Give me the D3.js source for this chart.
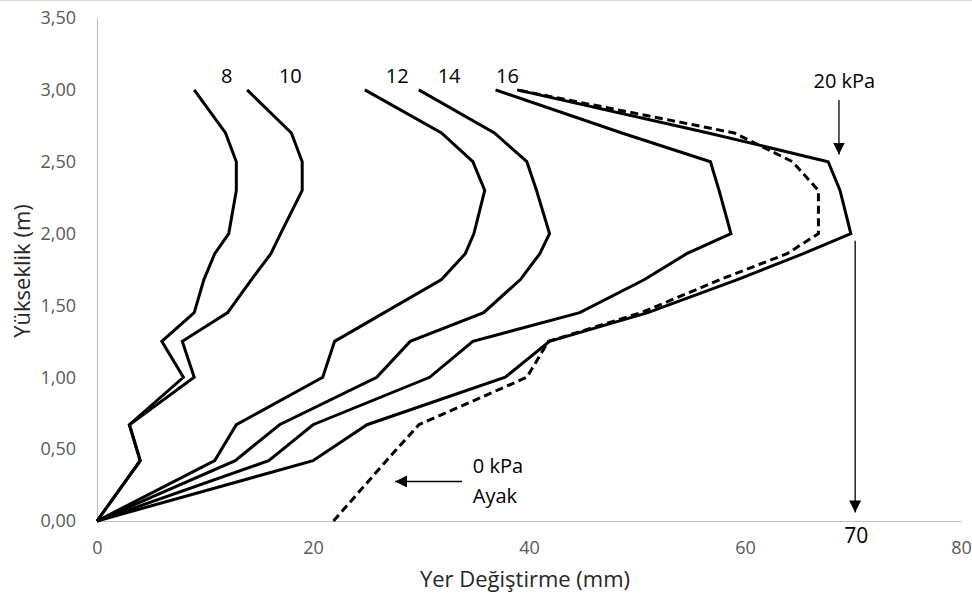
<!DOCTYPE html>
<meta charset="utf-8">
<script src="https://d3js.org/d3.v7.min.js"></script>
<style>
  body { margin: 0; background: #fff; }
  text { font-family: "Open Sans", Lato, sans-serif; }
</style>
<div id="chart"></div>
<script>
// Depths (m) at which displacement was measured
var depths = [0, 0.42, 0.67, 1.00, 1.25, 1.45, 1.68, 1.86, 2.00, 2.30, 2.50, 2.70, 3.00];

// Horizontal displacement (mm) per load step
var s8  = [0, 4.0, 3.0, 8.0, 6.0, 9.0, 9.9, 10.9, 12.2, 12.9, 12.9, 11.9, 9.0];
var s10 = [0, 4.0, 3.0, 9.0, 7.9, 12.1, 14.3, 16.1, 17.0, 19.0, 19.0, 18.0, 13.9];
var s12 = [0, 10.9, 12.9, 20.9, 22.0, 26.6, 31.9, 34.1, 34.9, 35.9, 34.8, 31.9, 24.8];
var s14 = [0, 12.8, 16.9, 25.9, 29.0, 35.8, 39.2, 41.0, 41.9, 40.7, 39.8, 36.8, 29.8];
var s16 = [0, 15.9, 20.0, 30.8, 34.8, 44.7, 50.7, 54.6, 58.7, 57.6, 56.8, 48.6, 36.9];
var s20 = [0, 20.0, 25.0, 37.8, 41.9, 51.0, 59.3, 65.4, 69.8, 68.8, 67.7, 56.6, 38.9];
var s0ayak = [21.9, 26.8, 29.8, 39.8, 41.8, 50.4, 57.7, 63.9, 66.8, 66.8, 64.4, 59.0, 38.9];

var xTicks = [0, 20, 40, 60, 80];
var yTicks = [0, 0.5, 1, 1.5, 2, 2.5, 3, 3.5];

var W = 972, H = 603;
var svg = d3.select("#chart").append("svg")
    .attr("width", W)
    .attr("height", H);

var x = d3.scaleLinear().domain([0, 80]).range([97, 961]);
var y = d3.scaleLinear().domain([0, 3.5]).range([521, 18]);

var tr = d3.formatLocale({decimal: ",", thousands: ".", grouping: [3], currency: ["", " TL"]});
var fmtY = tr.format(".2f");

// faint frame line at the top edge
svg.append("line")
    .attr("x1", 0).attr("x2", W).attr("y1", 0.5).attr("y2", 0.5)
    .attr("stroke", "#d9d9d9");

// axes
var xAxis = svg.append("g")
    .attr("transform", "translate(0," + y(0) + ")")
    .call(d3.axisBottom(x).tickValues(xTicks).tickSize(0).tickPadding(20));
var yAxis = svg.append("g")
    .attr("transform", "translate(" + x(0) + ",0)")
    .call(d3.axisLeft(y).tickValues(yTicks).tickSize(0).tickPadding(21).tickFormat(fmtY));
[xAxis, yAxis].forEach(function(g) {
  g.select(".domain").attr("stroke", "#bfbfbf").attr("stroke-width", 1.2);
  g.selectAll("text").attr("fill", "#595959").style("font-size", "18px")
    .style("font-family", "'Open Sans', Lato, sans-serif");
});

svg.append("text")
    .attr("x", 525).attr("y", 587)
    .attr("text-anchor", "middle")
    .attr("fill", "#262626")
    .style("font-size", "22px")
    .text("Yer Değiştirme (mm)");
svg.append("text")
    .attr("transform", "translate(30,271) rotate(-90)")
    .attr("text-anchor", "middle")
    .attr("fill", "#262626")
    .style("font-size", "22px")
    .text("Yükseklik (m)");

// curves
var line = d3.line()
    .x(function(d) { return x(d[0]); })
    .y(function(d) { return y(d[1]); });

var series = [
  {vals: s8}, {vals: s10}, {vals: s12}, {vals: s14}, {vals: s16}, {vals: s20},
  {vals: s0ayak, dash: "8,4.5"}
];
series.forEach(function(s) {
  svg.append("path")
      .datum(s.vals.map(function(v, i) { return [v, depths[i]]; }))
      .attr("fill", "none")
      .attr("stroke", "#000")
      .attr("stroke-width", 3)
      .attr("stroke-linejoin", "miter")
      .attr("stroke-dasharray", s.dash || null)
      .attr("d", line);
});

// curve labels
var labelText = ["8", "10", "12", "14", "16"];
var labelX = [12.0, 17.9, 27.8, 32.6, 38.0];
svg.selectAll(".lbl")
  .data(labelText)
  .enter().append("text")
    .attr("x", function(d, i) { return x(labelX[i]); })
    .attr("y", 83)
    .attr("text-anchor", "middle")
    .attr("fill", "#000")
    .style("font-size", "20px")
    .text(function(d) { return d; });

// arrowheads
var defs = svg.append("defs");
defs.append("marker")
    .attr("id", "head")
    .attr("viewBox", "0 0 10 10")
    .attr("refX", 10).attr("refY", 5)
    .attr("markerWidth", 12).attr("markerHeight", 12)
    .attr("markerUnits", "userSpaceOnUse")
    .attr("orient", "auto")
  .append("path")
    .attr("d", "M0,0L10,5L0,10Z")
    .attr("fill", "#000");

function arrow(x1, y1, x2, y2) {
  svg.append("line")
      .attr("x1", x(x1)).attr("y1", y(y1))
      .attr("x2", x(x2)).attr("y2", y(y2))
      .attr("stroke", "#000").attr("stroke-width", 1.3)
      .attr("marker-end", "url(#head)");
}

// 20 kPa arrow
arrow(68.7, 2.93, 68.7, 2.55);
svg.append("text")
    .attr("x", x(69.2)).attr("y", 88)
    .attr("text-anchor", "middle")
    .style("font-size", "20px")
    .text("20 kPa");

// 70 mm drop line
arrow(70.2, 1.95, 70.2, 0.06);
svg.append("text")
    .attr("x", x(70.3)).attr("y", 543)
    .attr("text-anchor", "middle")
    .style("font-size", "21px")
    .text("70");

// 0 kPa Ayak arrow
arrow(33.8, 0.275, 27.6, 0.275);
svg.append("text")
    .attr("x", x(34.8)).attr("y", 473)
    .style("font-size", "20px")
    .text("0 kPa");
svg.append("text")
    .attr("x", x(34.8)).attr("y", 503)
    .style("font-size", "20px")
    .text("Ayak");
</script>
